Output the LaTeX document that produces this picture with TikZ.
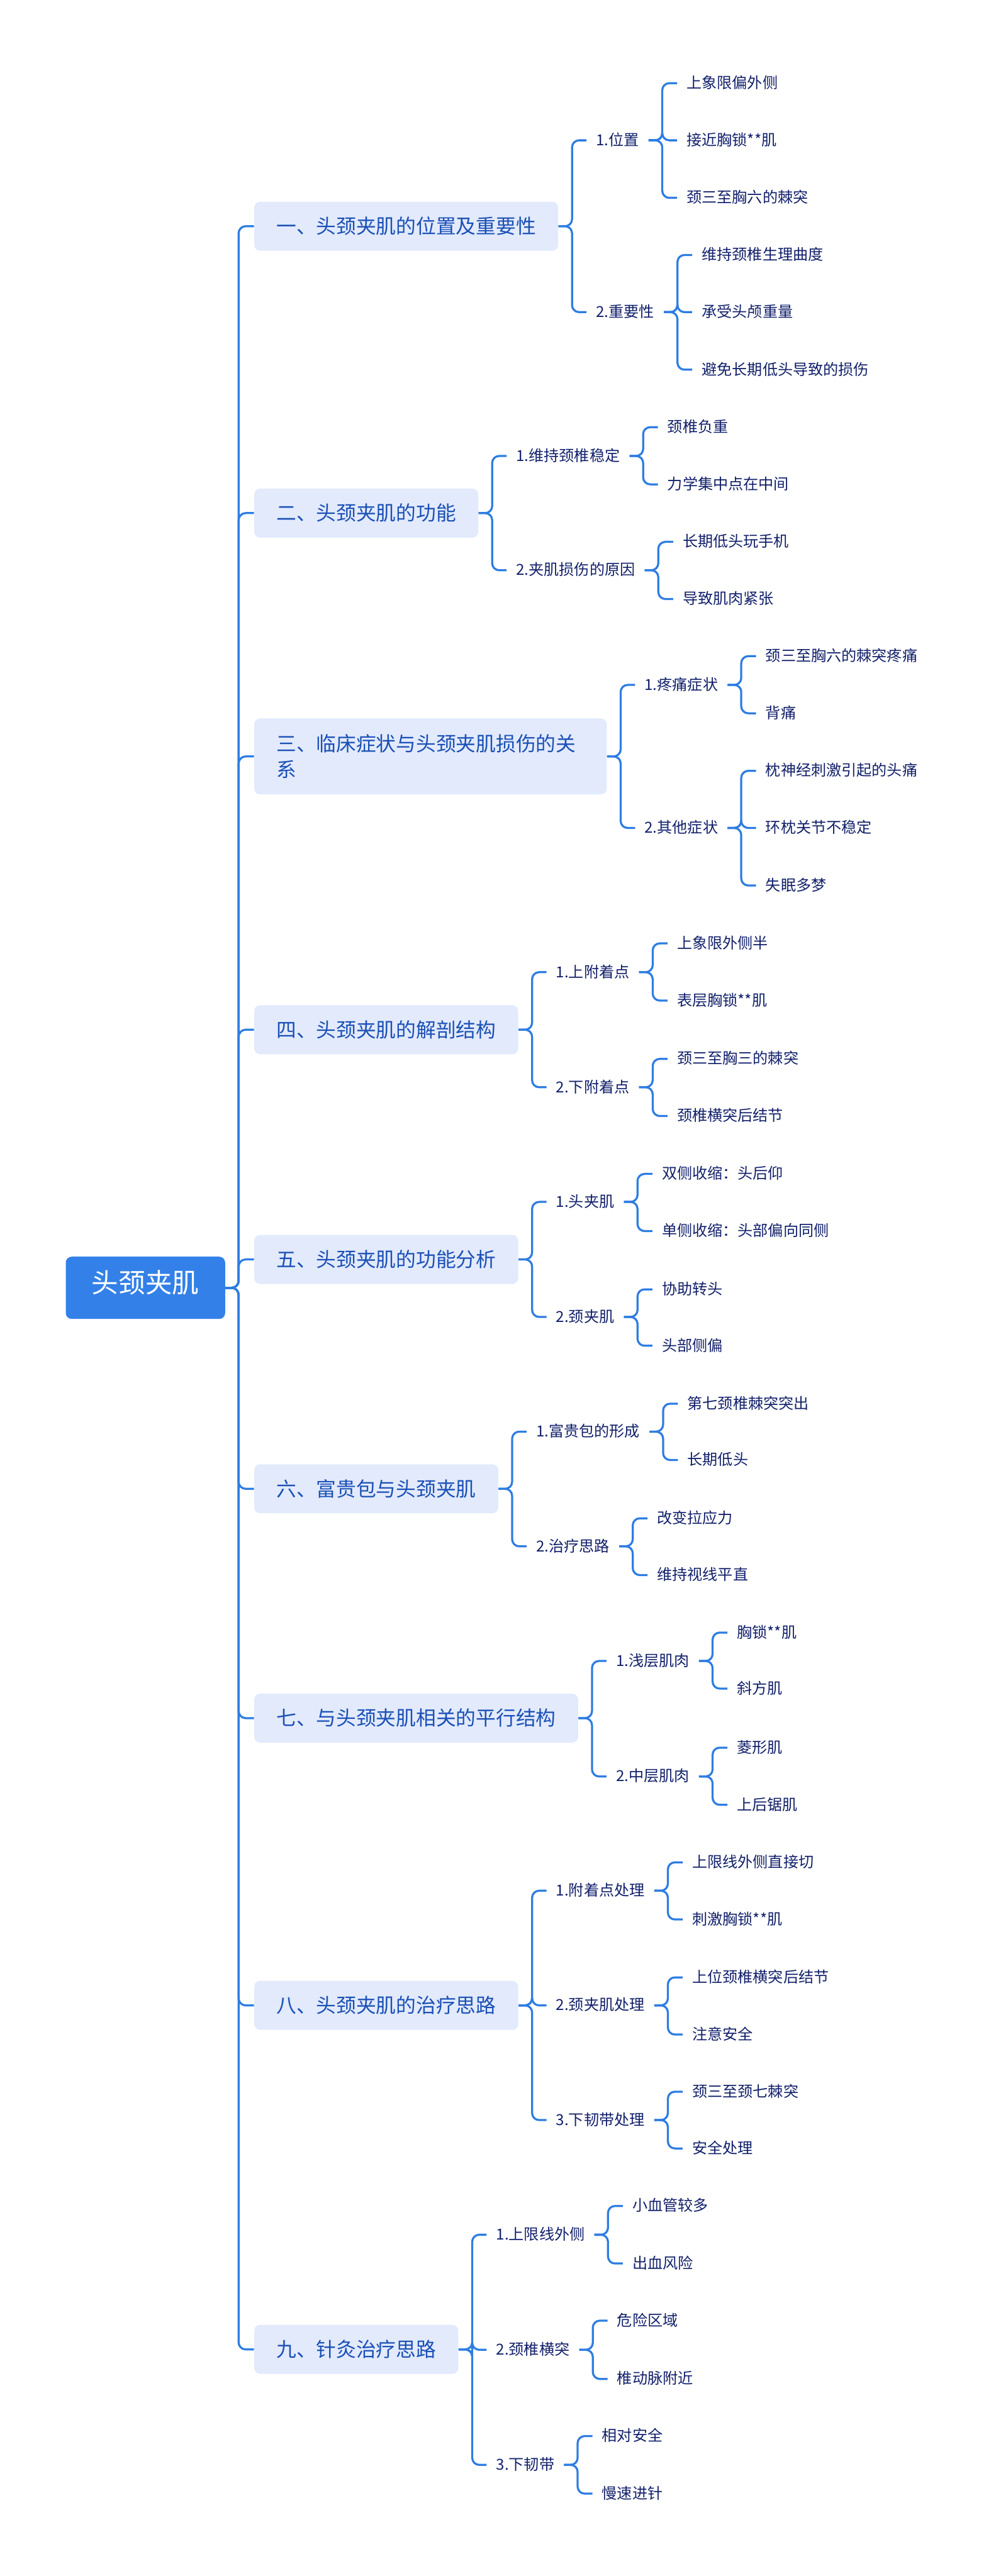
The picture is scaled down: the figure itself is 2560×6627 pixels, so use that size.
\documentclass[tikz,border=0pt]{standalone}
\usepackage{fontspec}
\setmainfont{Noto Sans CJK SC}
\usetikzlibrary{positioning}

\definecolor{linkblue}{RGB}{46,125,226}
\definecolor{rootblue}{RGB}{51,129,232}
\definecolor{topicfill}{RGB}{226,234,252}
\definecolor{topictext}{RGB}{27,80,182}
\definecolor{subtext}{RGB}{18,32,106}

\tikzset{
    centralbox/.style={fill=rootblue, text=white, rounded corners=0.15cm, inner xsep=0.67cm, minimum height=1.6cm, font=\fontsize{19.6}{24}\selectfont, text height=0.8em, text depth=0.04em},
    topicbox/.style={anchor=west, fill=topicfill, text=topictext, rounded corners=0.15cm, inner xsep=0.57cm, minimum height=1.26cm, align=left, font=\fontsize{14.6}{18.8}\selectfont},
    subtopic/.style={anchor=west, text=subtext, inner xsep=0.24cm, inner ysep=0.05cm, font=\fontsize{11.1}{14}\selectfont, text height=0.8em, text depth=0.04em},
    leafnode/.style={subtopic, xshift=7.3mm},
    branchline/.style={draw=linkblue, line width=1.5pt, rounded corners=0.18cm}
}

\begin{document}
\begin{tikzpicture}[x=0.01cm, y=-0.01cm]
\useasboundingbox (0,0) rectangle (2560,6627);

\node[centralbox] (root) at (374,3313) {头颈夹肌};

% first level
\node[topicbox] (b1) at (653,582) {一、头颈夹肌的位置及重要性};
\node[topicbox] (b2) at (653,1320) {二、头颈夹肌的功能};
\node[topicbox, minimum height=1.95cm, text width=7.92cm] (b3) at (653,1946) {三、临床症状与头颈夹肌损伤的关\\系};
\node[topicbox] (b4) at (653,2649) {四、头颈夹肌的解剖结构};
\node[topicbox] (b5) at (653,3240) {五、头颈夹肌的功能分析};
\node[topicbox] (b6) at (653,3830) {六、富贵包与头颈夹肌};
\node[topicbox] (b7) at (653,4420) {七、与头颈夹肌相关的平行结构};
\node[topicbox] (b8) at (653,5159) {八、头颈夹肌的治疗思路};
\node[topicbox] (b9) at (653,6044) {九、针灸治疗思路};

\foreach \b in {b1,b2,b3,b4,b5,b6,b7,b8,b9}
    \draw[branchline] (root.east) -- ++(34,0) |- (\b.west);

% second level
\node[subtopic, xshift=7.2mm] (c11) at (b1.east |- 0,361) {1.位置};
\node[subtopic, xshift=7.2mm] (c12) at (b1.east |- 0,803) {2.重要性};
\node[subtopic, xshift=7.2mm] (c21) at (b2.east |- 0,1173) {1.维持颈椎稳定};
\node[subtopic, xshift=7.2mm] (c22) at (b2.east |- 0,1467) {2.夹肌损伤的原因};
\node[subtopic, xshift=7.2mm] (c31) at (b3.east |- 0,1762) {1.疼痛症状};
\node[subtopic, xshift=7.2mm] (c32) at (b3.east |- 0,2130) {2.其他症状};
\node[subtopic, xshift=7.2mm] (c41) at (b4.east |- 0,2501) {1.上附着点};
\node[subtopic, xshift=7.2mm] (c42) at (b4.east |- 0,2797) {2.下附着点};
\node[subtopic, xshift=7.2mm] (c51) at (b5.east |- 0,3092) {1.头夹肌};
\node[subtopic, xshift=7.2mm] (c52) at (b5.east |- 0,3388) {2.颈夹肌};
\node[subtopic, xshift=7.2mm] (c61) at (b6.east |- 0,3683) {1.富贵包的形成};
\node[subtopic, xshift=7.2mm] (c62) at (b6.east |- 0,3978) {2.治疗思路};
\node[subtopic, xshift=7.2mm] (c71) at (b7.east |- 0,4273) {1.浅层肌肉};
\node[subtopic, xshift=7.2mm] (c72) at (b7.east |- 0,4570) {2.中层肌肉};
\node[subtopic, xshift=7.2mm] (c81) at (b8.east |- 0,4864) {1.附着点处理};
\node[subtopic, xshift=7.2mm] (c82) at (b8.east |- 0,5159) {2.颈夹肌处理};
\node[subtopic, xshift=7.2mm] (c83) at (b8.east |- 0,5454) {3.下韧带处理};
\node[subtopic, xshift=7.2mm] (c91) at (b9.east |- 0,5749) {1.上限线外侧};
\node[subtopic, xshift=7.2mm] (c92) at (b9.east |- 0,6045) {2.颈椎横突};
\node[subtopic, xshift=7.2mm] (c93) at (b9.east |- 0,6341) {3.下韧带};

\foreach \b/\c in {b1/c11,b1/c12,b2/c21,b2/c22,b3/c31,b3/c32,b4/c41,b4/c42,b5/c51,b5/c52,b6/c61,b6/c62,b7/c71,b7/c72,b8/c81,b8/c82,b8/c83,b9/c91,b9/c92,b9/c93}
    \draw[branchline] (\b.east) -- ++(35,0) |- (\c.west);

% leaves
\foreach \c/\ly/\lbl [count=\i] in {
    c11/214/上象限偏外侧, c11/361/接近胸锁**肌, c11/509/颈三至胸六的棘突,
    c12/656/维持颈椎生理曲度, c12/803/承受头颅重量, c12/951/避免长期低头导致的损伤,
    c21/1099/颈椎负重, c21/1246/力学集中点在中间,
    c22/1394/长期低头玩手机, c22/1541/导致肌肉紧张,
    c31/1688/颈三至胸六的棘突疼痛, c31/1835/背痛,
    c32/1983/枕神经刺激引起的头痛, c32/2130/环枕关节不稳定, c32/2278/失眠多梦,
    c41/2427/上象限外侧半, c41/2574/表层胸锁**肌,
    c42/2724/颈三至胸三的棘突, c42/2871/颈椎横突后结节,
    c51/3020/双侧收缩：头后仰, c51/3167/单侧收缩：头部偏向同侧,
    c52/3317/协助转头, c52/3462/头部侧偏,
    c61/3611/第七颈椎棘突突出, c61/3756/长期低头,
    c62/3906/改变拉应力, c62/4052/维持视线平直,
    c71/4200/胸锁**肌, c71/4344/斜方肌,
    c72/4496/菱形肌, c72/4643/上后锯肌,
    c81/4791/上限线外侧直接切, c81/4938/刺激胸锁**肌,
    c82/5087/上位颈椎横突后结节, c82/5234/注意安全,
    c83/5381/颈三至颈七棘突, c83/5527/安全处理,
    c91/5675/小血管较多, c91/5823/出血风险,
    c92/5970/危险区域, c92/6120/椎动脉附近,
    c93/6267/相对安全, c93/6415/慢速进针}
{
    \node[leafnode] (leaf\i) at (\c.east |- 0,\ly) {\lbl};
    \draw[branchline] (\c.east) -- ++(35,0) |- (leaf\i.west);
}
\end{tikzpicture}
\end{document}
